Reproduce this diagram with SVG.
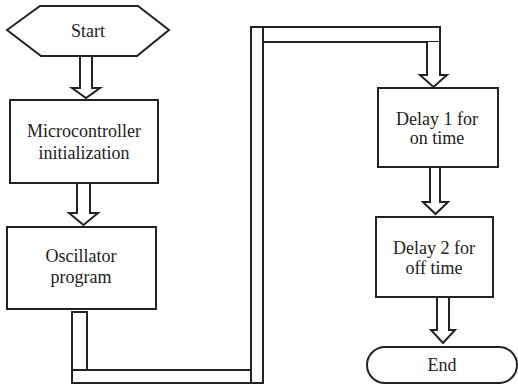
<svg xmlns="http://www.w3.org/2000/svg" width="518" height="387" viewBox="0 0 518 387">
<style>
.s{fill:#fff;stroke:#222;stroke-width:2;stroke-linejoin:miter}
text{font-family:"Liberation Serif","Times New Roman",serif;font-size:18px;fill:#222;text-anchor:middle}
</style>
<rect width="518" height="387" fill="#fff"/>
<g id="connectors">
<polyline class="s" points="80,56 80,88 72,88 86,98 100,88 92,88 92,56"/>
<polyline class="s" points="77,183 77,213 69,213 83.5,225 98,213 90,213 90,183"/>
<rect class="s" x="72" y="312" width="15" height="58"/>
<rect class="s" x="72" y="370" width="179" height="13"/>
<rect class="s" x="251" y="27" width="12" height="356"/>
<rect class="s" x="263" y="27" width="177" height="15"/>
<polyline class="s" points="427,42 427,75 420,75 433.5,87 447,75 440,75 440,42"/>
<polyline class="s" points="430,167 430,202 423,202 435.5,214 448,202 440,202 440,167"/>
<polyline class="s" points="437,297 437,330 431,330 443,343 455,330 449,330 449,297"/>
</g>
<g id="start">
<polygon class="s" points="7,30 40,6 138,6 169,30 137,56 41,56"/>
<text x="88" y="37">Start</text>
</g>
<g id="init">
<rect class="s" x="10" y="100" width="148" height="83"/>
<text x="84" y="137">Microcontroller</text>
<text x="84" y="159">initialization</text>
</g>
<g id="osc">
<rect class="s" x="7" y="227" width="149" height="82"/>
<text x="81" y="262">Oscillator</text>
<text x="81" y="283">program</text>
</g>
<g id="delay1">
<rect class="s" x="378" y="88" width="120" height="79"/>
<text x="437" y="125">Delay 1 for</text>
<text x="437" y="144">on time</text>
</g>
<g id="delay2">
<rect class="s" x="376" y="217" width="117" height="80"/>
<text x="434" y="254">Delay 2 for</text>
<text x="434" y="274">off time</text>
</g>
<g id="end">
<rect class="s" x="367" y="347" width="150" height="36" rx="18" ry="18"/>
<text x="442" y="371">End</text>
</g>
</svg>
